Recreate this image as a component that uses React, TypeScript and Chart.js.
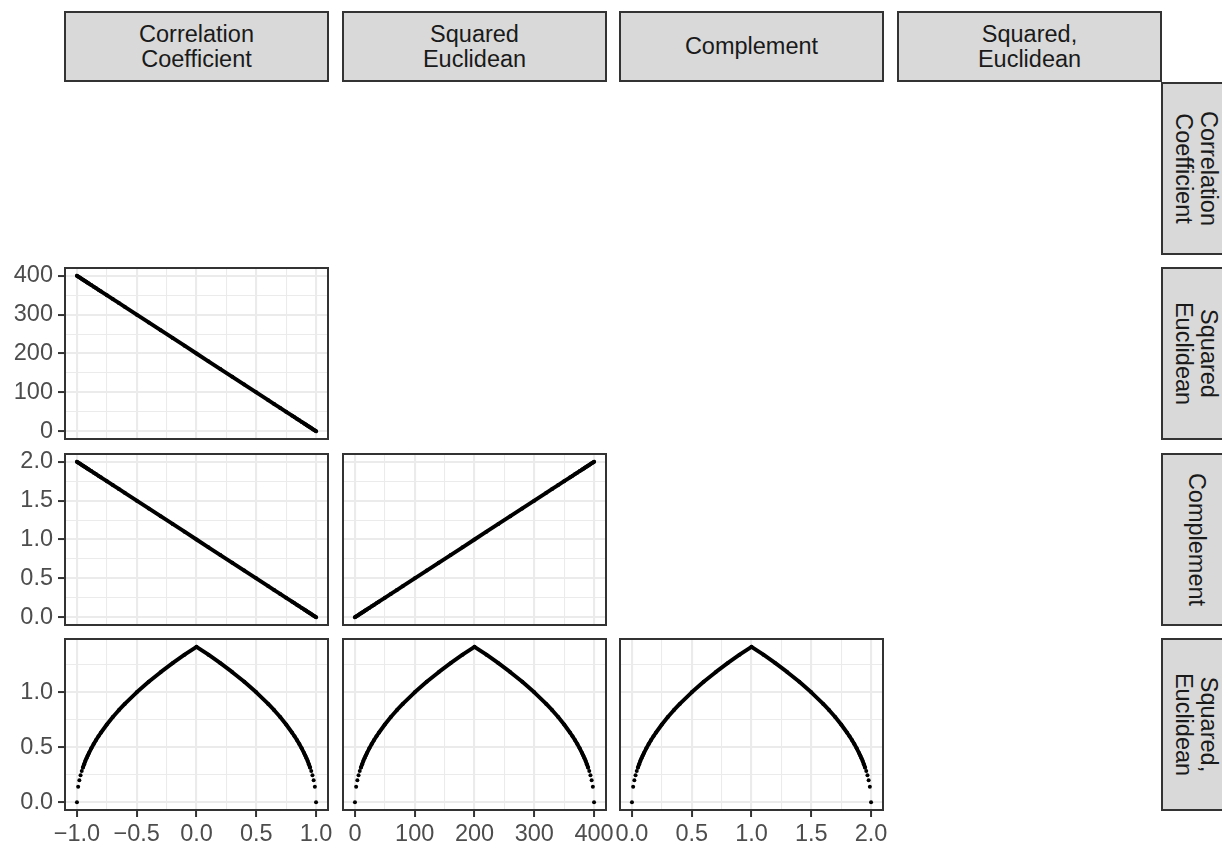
import React, { useEffect, useRef } from "react";
import { Chart, registerables } from "chart.js";
Chart.register(...registerables);

// ---- data (one observation per index) ----
const variableNames = ["Correlation\nCoefficient", "Squared\nEuclidean", "Complement", "Squared,\nEuclidean"];

const correlation = [-1, -0.99, -0.98, -0.97, -0.96, -0.95, -0.94, -0.93, -0.92, -0.91, -0.9, -0.88, -0.86, -0.84, -0.82, -0.8, -0.75, -0.7, -0.65, -0.6, -0.5, -0.4, -0.3, -0.2, -0.1, 0, 0.1, 0.2, 0.3, 0.4, 0.5, 0.6, 0.65, 0.7, 0.75, 0.8, 0.82, 0.84, 0.86, 0.88, 0.9, 0.91, 0.92, 0.93, 0.94, 0.95, 0.96, 0.97, 0.98, 0.99, 1];
const squaredEuclidean = [400, 398, 396, 394, 392, 390, 388, 386, 384, 382, 380, 376, 372, 368, 364, 360, 350, 340, 330, 320, 300, 280, 260, 240, 220, 200, 180, 160, 140, 120, 100, 80, 70, 60, 50, 40, 36, 32, 28, 24, 20, 18, 16, 14, 12, 10, 8, 6, 4, 2, 0];
const complement = [2, 1.99, 1.98, 1.97, 1.96, 1.95, 1.94, 1.93, 1.92, 1.91, 1.9, 1.88, 1.86, 1.84, 1.82, 1.8, 1.75, 1.7, 1.65, 1.6, 1.5, 1.4, 1.3, 1.2, 1.1, 1, 0.9, 0.8, 0.7, 0.6, 0.5, 0.4, 0.35, 0.3, 0.25, 0.2, 0.18, 0.16, 0.14, 0.12, 0.1, 0.09, 0.08, 0.07, 0.06, 0.05, 0.04, 0.03, 0.02, 0.01, 0];
const squaredCommaEuclidean = [0, 0.141, 0.2, 0.245, 0.283, 0.316, 0.346, 0.374, 0.4, 0.424, 0.447, 0.49, 0.529, 0.566, 0.6, 0.632, 0.707, 0.775, 0.837, 0.894, 1.0, 1.095, 1.183, 1.265, 1.342, 1.414, 1.342, 1.265, 1.183, 1.095, 1.0, 0.894, 0.837, 0.775, 0.707, 0.632, 0.6, 0.566, 0.529, 0.49, 0.447, 0.424, 0.4, 0.374, 0.346, 0.316, 0.283, 0.245, 0.2, 0.141, 0];

// ---- tick values and labels ----
const ticksCorrelation = [-1, -0.5, 0, 0.5, 1];
const labelsCorrelation = ["\u22121.0", "\u22120.5", "0.0", "0.5", "1.0"];
const ticksSquaredEuclidean = [0, 100, 200, 300, 400];
const labelsSquaredEuclidean = ["0", "100", "200", "300", "400"];
const ticksComplement = [0, 0.5, 1, 1.5, 2];
const labelsComplement = ["0.0", "0.5", "1.0", "1.5", "2.0"];
const ticksSquaredComma = [0, 0.5, 1];
const labelsSquaredComma = ["0.0", "0.5", "1.0"];

const variables = [correlation, squaredEuclidean, complement, squaredCommaEuclidean];
const tickSets = [ticksCorrelation, ticksSquaredEuclidean, ticksComplement, ticksSquaredComma];
const labelSets = [labelsCorrelation, labelsSquaredEuclidean, labelsComplement, labelsSquaredComma];

// ---- layout ----
const COL_LEFT = [65, 343, 620, 898];
const ROW_TOP = [83, 268, 454, 639];
const PW = 263;
const PH = 171;
const STRIP = 71;
const FONT = "'Liberation Sans', Arial, Helvetica, sans-serif";
const FS = 23.5;

const panels = [
  { row: 1, col: 0 },
  { row: 2, col: 0 },
  { row: 2, col: 1 },
  { row: 3, col: 0 },
  { row: 3, col: 1 },
  { row: 3, col: 2 },
];

function rangeOf(v: number[]) {
  const mn = Math.min(...v);
  const mx = Math.max(...v);
  const e = (mx - mn) * 0.05;
  return [mn - e, mx + e];
}

function allTicks(major: number[], lo: number, hi: number) {
  const step = major[1] - major[0];
  const ext = [major[0] - step, ...major, major[major.length - 1] + step];
  const minor: number[] = [];
  for (let i = 0; i < ext.length - 1; i++) minor.push((ext[i] + ext[i + 1]) / 2);
  return [...major.map((v) => ({ v, major: true })), ...minor.map((v) => ({ v, major: false }))]
    .filter((t) => t.v >= lo - 1e-9 && t.v <= hi + 1e-9)
    .sort((a, b) => a.v - b.v);
}

function isMajor(major: number[], v: number) {
  return major.some((m) => Math.abs(m - v) < 1e-9);
}

const borderPlugin = {
  id: "panelBorder",
  afterDraw(chart: any) {
    const { ctx, chartArea } = chart;
    ctx.save();
    ctx.strokeStyle = "#333333";
    ctx.lineWidth = 2;
    ctx.strokeRect(chartArea.left, chartArea.top, chartArea.right - chartArea.left, chartArea.bottom - chartArea.top);
    ctx.restore();
  },
};

function Panel({ row, col }: { row: number; col: number }) {
  const ref = useRef<HTMLCanvasElement>(null);
  const padL = col === 0 ? COL_LEFT[0] : 40;
  const padR = 40;
  const padT = 30;
  const padB = row === 3 ? 844 - (ROW_TOP[3] + PH) : 30;
  const yAxisW = col === 0 ? COL_LEFT[0] : 0;
  const xAxisH = row === 3 ? padB : 0;
  const cw = PW + padL + padR;
  const ch = PH + padT + padB;

  useEffect(() => {
    const xs = variables[col];
    const ys = variables[row];
    const [xlo, xhi] = rangeOf(xs);
    const [ylo, yhi] = rangeOf(ys);
    const xMajor = tickSets[col];
    const yMajor = tickSets[row];
    const xT = allTicks(xMajor, xlo, xhi);
    const yT = allTicks(yMajor, ylo, yhi);
    const curved = row === 3;
    const showX = row === 3;
    const showY = col === 0;

    const grid = (major: number[], show: boolean) => ({
      color: "#EBEBEB",
      lineWidth: (c: any) => (c.tick && isMajor(major, c.tick.value) ? 2.1 : 1.05),
      drawTicks: show,
      tickLength: 7,
      tickWidth: 2,
      tickColor: (c: any) => (c.tick && isMajor(major, c.tick.value) ? "#333333" : "rgba(0,0,0,0)"),
    });
    const label = (major: number[], labels: string[]) => (v: any) => {
      const i = major.findIndex((m) => Math.abs(m - v) < 1e-9);
      return i >= 0 ? labels[i] : "";
    };

    const chart = new Chart(ref.current as HTMLCanvasElement, {
      type: "scatter",
      data: {
        datasets: [
          {
            data: xs.map((x, i) => ({ x, y: ys[i] })),
            showLine: true,
            borderColor: "#000000",
            borderWidth: 3.9,
            borderJoinStyle: "round",
            borderCapStyle: "round",
            pointRadius: 2,
            pointBorderWidth: 0,
            pointBackgroundColor: "#000000",
            pointHoverRadius: 2,
            segment: {
              borderColor: (c: any) =>
                curved && Math.min(ys[c.p0DataIndex], ys[c.p1DataIndex]) < 0.3 ? "rgba(0,0,0,0)" : "#000000",
            },
          } as any,
        ],
      },
      options: {
        responsive: false,
        animation: false,
        events: [],
        layout: {
          padding: { left: padL - yAxisW, right: padR, top: padT, bottom: padB - xAxisH },
        },
        plugins: { legend: { display: false }, tooltip: { enabled: false } },
        scales: {
          x: {
            type: "linear",
            min: xlo,
            max: xhi,
            afterBuildTicks: (s: any) => {
              s.ticks = xT.map((t) => ({ value: t.v }));
            },
            afterFit: (s: any) => {
              s.height = xAxisH;
            },
            ticks: {
              display: showX,
              autoSkip: false,
              maxRotation: 0,
              minRotation: 0,
              padding: 3,
              color: "#4D4D4D",
              font: { family: FONT, size: FS },
              callback: label(xMajor, labelSets[col]),
            },
            grid: grid(xMajor, showX) as any,
            border: { display: false },
          },
          y: {
            type: "linear",
            min: ylo,
            max: yhi,
            afterBuildTicks: (s: any) => {
              s.ticks = yT.map((t) => ({ value: t.v }));
            },
            afterFit: (s: any) => {
              s.width = yAxisW;
            },
            ticks: {
              display: showY,
              autoSkip: false,
              padding: 5,
              color: "#4D4D4D",
              font: { family: FONT, size: FS },
              callback: label(yMajor, labelSets[row]),
            },
            grid: grid(yMajor, showY) as any,
            border: { display: false },
          },
        },
      },
      plugins: [borderPlugin],
    });
    return () => chart.destroy();
  }, []);

  return (
    <canvas
      ref={ref}
      width={cw}
      height={ch}
      style={{ position: "absolute", left: COL_LEFT[col] - padL, top: ROW_TOP[row] - padT, width: cw, height: ch }}
    />
  );
}

const stripStyle: React.CSSProperties = {
  position: "absolute",
  boxSizing: "border-box",
  background: "#D9D9D9",
  border: "2px solid #333333",
  display: "flex",
  alignItems: "center",
  justifyContent: "center",
  textAlign: "center",
  whiteSpace: "pre-line",
  fontFamily: FONT,
  fontSize: FS,
  lineHeight: "25px",
  color: "#1A1A1A",
};

export default function App() {
  return (
    <div style={{ position: "absolute", left: 0, top: 0, width: 1222, height: 844, overflow: "hidden", background: "#FFFFFF" }}>
      {variableNames.map((n, j) => (
        <div key={"t" + j} style={{ ...stripStyle, left: COL_LEFT[j] - 1, top: 11, width: PW + 2, height: STRIP }}>
          {n}
        </div>
      ))}
      {variableNames.map((n, i) => (
        <div key={"r" + i} style={{ position: "absolute", left: COL_LEFT[3] + PW, top: ROW_TOP[i] - 1, width: STRIP, height: PH + 2 }}>
          <div
            style={{
              ...stripStyle,
              left: (STRIP - (PH + 2)) / 2,
              top: (PH + 2 - STRIP) / 2,
              width: PH + 2,
              height: STRIP,
              transform: "rotate(90deg)",
            }}
          >
            {n}
          </div>
        </div>
      ))}
      {panels.map((p) => (
        <Panel key={p.row + "-" + p.col} row={p.row} col={p.col} />
      ))}
    </div>
  );
}
